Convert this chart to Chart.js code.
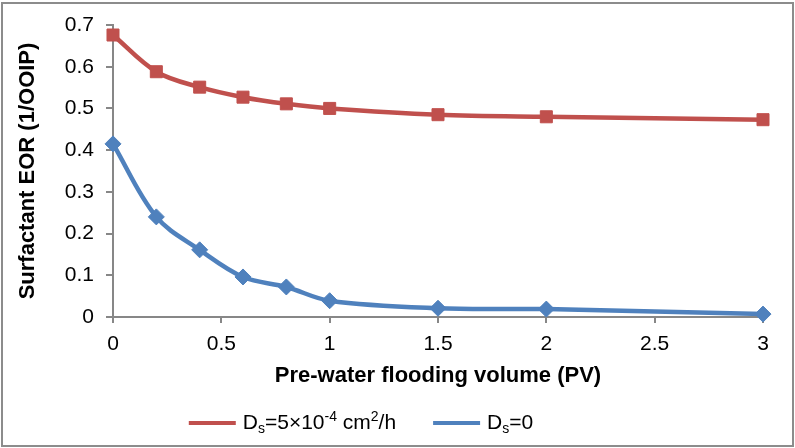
<!DOCTYPE html>
<html>
<head>
<meta charset="utf-8">
<script src="https://cdn.jsdelivr.net/npm/chart.js@4.4.1/dist/chart.umd.min.js"></script>
<style>
  html, body { margin: 0; padding: 0; background: #fff; }
  #wrap { width: 795px; height: 448px; }
</style>
</head>
<body>
<div id="wrap"><canvas id="eor"></canvas></div>
<script>
// pre-water flooding volume (PV)
var pv = [0, 0.2, 0.4, 0.6, 0.8, 1, 1.5, 2, 3];
// surfactant EOR, with diffusion Ds = 5e-4 cm2/h
var eor_diff = [0.676, 0.588, 0.551, 0.527, 0.511, 0.500, 0.485, 0.480, 0.473];
// surfactant EOR, no diffusion
var eor_nodiff = [0.415, 0.240, 0.161, 0.096, 0.072, 0.039, 0.021, 0.019, 0.007];

var x_title = "Pre-water flooding volume (PV)";
var y_title = "Surfactant EOR (1/OOIP)";

// legend texts split in pieces : [text, "n" normal | "sub" | "sup"]
var label_diff = [["D", "n"], ["s", "sub"], ["=5\u00d710", "n"], ["-4", "sup"], [" cm", "n"], ["2", "sup"], ["/h", "n"]];
var label_nodiff = [["D", "n"], ["s", "sub"], ["=0", "n"]];

var RED = "#C0504D";
var BLUE = "#4F81BD";
var AXIS = "#878787";
var FONT = "'Liberation Sans', Arial, sans-serif";

function toPoints(xs, ys) {
    var pts = [];
    for (var i = 0; i < xs.length; i++) {
        pts.push({ x: xs[i], y: ys[i] });
    }
    return pts;
}

function fmt(v) {
    return Number(v.toFixed(1)).toString();
}

// white page + grey frame
var framePlugin = {
    id: "frame",
    beforeDraw: function (chart) {
        var c = chart.ctx;
        c.save();
        c.fillStyle = "#fff";
        c.fillRect(0, 0, chart.width, chart.height);
        c.strokeStyle = "#8c8c8c";
        c.lineWidth = 2;
        c.strokeRect(2, 3, 791, 443);
        c.restore();
    }
};

// legend with sub/superscripts, drawn under the axis title
function partFont(kind) {
    return (kind == "n" ? "21px " : "14px ") + FONT;
}

function labelWidth(c, parts) {
    var w = 0;
    parts.forEach(function (p) {
        c.font = partFont(p[1]);
        w += c.measureText(p[0]).width;
    });
    return w;
}

var legendPlugin = {
    id: "richLegend",
    afterDraw: function (chart) {
        var c = chart.ctx;
        var y = 423;
        var swatch = 47, gapTxt = 7, gapItem = 37;
        var items = chart.data.datasets.map(function (ds) {
            return { ds: ds, parts: ds.richLabel };
        });
        c.save();
        var total = 0;
        items.forEach(function (it, i) {
            it.w = labelWidth(c, it.parts);
            total += swatch + gapTxt + it.w + (i ? gapItem : 0);
        });
        var x = 361 - total / 2;
        items.forEach(function (it) {
            c.strokeStyle = it.ds.borderColor;
            c.lineWidth = 4;
            c.beginPath();
            c.moveTo(x, y);
            c.lineTo(x + swatch, y);
            c.stroke();
            c.fillStyle = it.ds.pointBackgroundColor;
            c.strokeStyle = it.ds.pointBorderColor;
            c.lineWidth = 1;
            Chart.helpers.drawPoint(c, {
                pointStyle: it.ds.pointStyle,
                rotation: 0,
                borderWidth: 1
            }, x + swatch / 2, y, it.ds.pointRadius);
            x += swatch + gapTxt;
            c.fillStyle = "#000";
            c.textBaseline = "middle";
            c.textAlign = "left";
            it.parts.forEach(function (p) {
                c.font = partFont(p[1]);
                var dy = p[1] == "sub" ? 6 : (p[1] == "sup" ? -6 : 0);
                c.fillText(p[0], x, y + dy);
                x += c.measureText(p[0]).width;
            });
            x += gapItem;
        });
        c.restore();
    }
};

var ctx = document.getElementById("eor").getContext("2d");

var data = {
    datasets: [
        {
            label: "Ds=5x10-4 cm2/h",
            richLabel: label_diff,
            data: toPoints(pv, eor_diff),
            borderColor: RED,
            backgroundColor: RED,
            pointBackgroundColor: RED,
            pointBorderColor: RED,
            pointStyle: "rect",
            pointRadius: 8.5,
            pointBorderWidth: 1,
            borderWidth: 4.5,
            tension: 0.35,
            clip: false
        },
        {
            label: "Ds=0",
            richLabel: label_nodiff,
            data: toPoints(pv, eor_nodiff),
            borderColor: BLUE,
            backgroundColor: BLUE,
            pointBackgroundColor: BLUE,
            pointBorderColor: BLUE,
            pointStyle: "rectRot",
            pointRadius: 8,
            pointBorderWidth: 1,
            borderWidth: 4.5,
            tension: 0.35,
            clip: false
        }
    ]
};

var options = {
    responsive: true,
    maintainAspectRatio: false,
    animation: false,
    layout: { padding: { top: 25, right: 32, bottom: 56, left: 0 } },
    plugins: {
        legend: { display: false },
        tooltip: { enabled: false }
    },
    scales: {
        x: {
            type: "linear",
            min: 0,
            max: 3,
            afterFit: function (s) { s.height = 75; },
            border: { color: AXIS, width: 2 },
            grid: { drawOnChartArea: false, color: AXIS, lineWidth: 2, tickLength: 6 },
            ticks: {
                stepSize: 0.5,
                padding: 9,
                color: "#000",
                font: { family: FONT, size: 21 },
                maxRotation: 0,
                callback: fmt
            },
            title: {
                display: true,
                text: x_title,
                color: "#000",
                font: { family: FONT, size: 22, weight: "bold" },
                padding: { top: 0, bottom: 3 }
            }
        },
        y: {
            min: 0,
            max: 0.7,
            afterFit: function (s) { s.width = 113; },
            border: { color: AXIS, width: 2 },
            grid: { drawOnChartArea: false, color: AXIS, lineWidth: 2, tickLength: 7 },
            ticks: {
                stepSize: 0.1,
                padding: 12,
                color: "#000",
                font: { family: FONT, size: 21 },
                callback: fmt
            },
            title: {
                display: true,
                text: y_title,
                color: "#000",
                font: { family: FONT, size: 22, weight: "bold" },
                padding: { top: 15, bottom: 0 }
            }
        }
    }
};

var config = {
    type: "line",
    data: data,
    options: options,
    plugins: [framePlugin, legendPlugin]
};

var eorChart = new Chart(ctx, config);
</script>
</body>
</html>
